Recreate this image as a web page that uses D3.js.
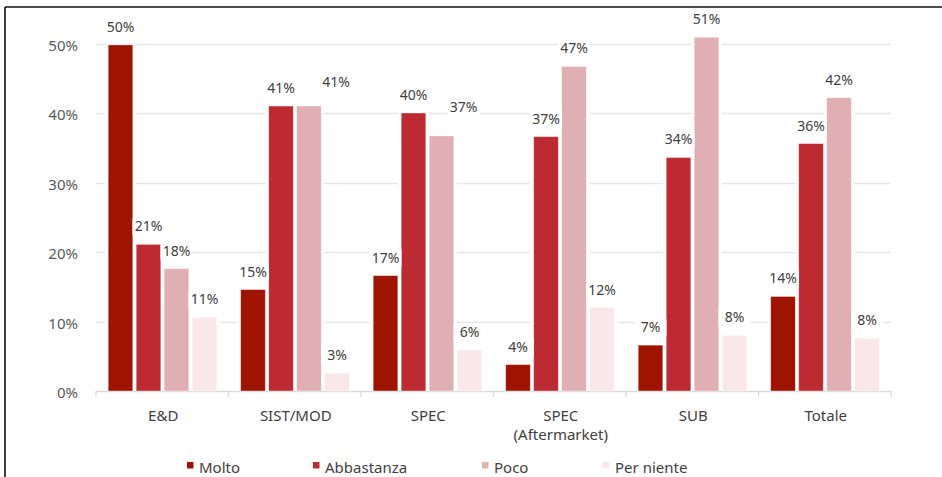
<!DOCTYPE html>
<html>
<head>
<meta charset="utf-8">
<script src="https://cdn.jsdelivr.net/npm/d3@7"></script>
<style>
  html, body { margin: 0; padding: 0; background: #fff; }
  svg { display: block; font-family: "Noto Sans", "Open Sans", sans-serif; }
</style>
</head>
<body>
<svg id="chart" width="942" height="477"></svg>
<script>
// ---- data ----
const categories = ["E&D", "SIST/MOD", "SPEC", "SPEC\n(Aftermarket)", "SUB", "Totale"];
const seriesNames = ["Molto", "Abbastanza", "Poco", "Per niente"];
const molto      = [0.498, 0.146, 0.166, 0.038, 0.066, 0.136];
const abbastanza = [0.211, 0.410, 0.400, 0.366, 0.336, 0.356];
const poco       = [0.176, 0.410, 0.367, 0.467, 0.509, 0.422];
const perNiente  = [0.106, 0.026, 0.059, 0.120, 0.080, 0.076];
const yTicks = [0, 0.1, 0.2, 0.3, 0.4, 0.5];

// ---- style ----
const colors = ["#9E1400", "#BE2A32", "#DFAFB3", "#F9E7E9"];
const labelNudges = { "1-2": [27, -6], "2-2": [22, -11] }; // cat-series : [dx, dy]

const seriesValues = [molto, abbastanza, poco, perNiente];
const rows = categories.map((c, i) => ({ cat: c, values: seriesValues.map(s => s[i]) }));

const svg = d3.select("#chart");

// frame lines
svg.append("line").attr("x1", 5).attr("x2", 942).attr("y1", 7).attr("y2", 7)
  .attr("stroke", "#111").attr("stroke-width", 1.6);
svg.append("line").attr("x1", 5).attr("x2", 5).attr("y1", 7).attr("y2", 477)
  .attr("stroke", "#111").attr("stroke-width", 1.6);

const x0 = d3.scaleBand().domain(categories).range([96, 891]).paddingInner(0).paddingOuter(0);
const x1 = d3.scaleBand().domain(seriesNames).range([10.5, 122.5]).paddingInner(0.12).paddingOuter(0.06);
const y = d3.scaleLinear().domain([0, 0.5]).range([391, 43.5]);
const pct = d3.format(".0%");

// gridlines
svg.append("g").selectAll("line").data(yTicks.filter(t => t > 0)).join("line")
  .attr("x1", 96).attr("x2", 891)
  .attr("y1", d => Math.round(y(d)) + 0.5).attr("y2", d => Math.round(y(d)) + 0.5)
  .attr("stroke", "#E6E6E6").attr("stroke-width", 1.3);

// y axis labels
const yAxis = d3.axisLeft(y).tickValues(yTicks).tickFormat(pct).tickSize(0).tickPadding(0);
const yg = svg.append("g").attr("transform", "translate(78,0)").call(yAxis);
yg.select(".domain").remove();
yg.selectAll("text").attr("fill", "#595959").attr("font-size", 15).attr("dy", "0.45em")
  .attr("font-family", "'Noto Sans', sans-serif");

// x axis baseline + ticks
const xg = svg.append("g");
xg.append("line").attr("x1", 96).attr("x2", 891).attr("y1", 391.5).attr("y2", 391.5)
  .attr("stroke", "#D9D9D9").attr("stroke-width", 1.3);
const bounds = categories.map(c => x0(c)).concat([x0.range()[1]]);
xg.selectAll("line.tk").data(bounds).join("line").attr("class", "tk")
  .attr("x1", d => d).attr("x2", d => d).attr("y1", 391).attr("y2", 397)
  .attr("stroke", "#D9D9D9").attr("stroke-width", 1.3);

// category labels
const catText = svg.append("g").selectAll("text").data(categories).join("text")
  .attr("x", d => x0(d) + x0.bandwidth() / 2 + 1)
  .attr("y", 421)
  .attr("text-anchor", "middle")
  .attr("font-size", 15).attr("fill", "#404040");
catText.each(function(d) {
  const lines = d.split("\n");
  d3.select(this).selectAll("tspan").data(lines).join("tspan")
    .attr("x", x0(d) + x0.bandwidth() / 2 + 1)
    .attr("dy", (l, i) => i === 0 ? 0 : 19)
    .text(l => l);
});

// bars
const groups = svg.append("g").selectAll("g").data(rows).join("g")
  .attr("transform", d => `translate(${x0(d.cat)},0)`);

const barData = d => d.values.map((v, j) => ({ v, j, name: seriesNames[j], ci: categories.indexOf(d.cat) }));

// white halo behind bars
groups.selectAll("rect.halo").data(barData).join("rect").attr("class", "halo")
  .attr("x", d => x1(d.name) - 3).attr("width", x1.bandwidth() + 6)
  .attr("y", d => y(d.v) - 1).attr("height", d => y(0) - y(d.v) + 1)
  .attr("fill", "#fff");
groups.selectAll("rect.bar").data(barData).join("rect").attr("class", "bar")
  .attr("x", d => x1(d.name)).attr("width", x1.bandwidth())
  .attr("y", d => y(d.v)).attr("height", d => y(0) - y(d.v))
  .attr("fill", (d) => colors[d.j])
  .attr("stroke", "#fff").attr("stroke-opacity", 0.5).attr("stroke-width", 0.8);

// data labels with white backgrounds
const lab = groups.selectAll("g.lab").data(barData).join("g").attr("class", "lab")
  .attr("transform", d => {
    const n = labelNudges[d.ci + "-" + d.j] || [0, 0];
    return `translate(${x1(d.name) + x1.bandwidth() / 2 + n[0]},${y(d.v) - 13 + n[1]})`;
  });
lab.append("rect").attr("x", -16).attr("y", -13).attr("width", 32).attr("height", 17).attr("fill", "#fff");
lab.append("text").attr("text-anchor", "middle").attr("font-size", 14).attr("fill", "#404040")
  .text(d => pct(d.v));

// legend
const legendX = [187, 313, 482, 603];
const leg = svg.append("g").selectAll("g").data(seriesNames).join("g")
  .attr("transform", (d, i) => `translate(${legendX[i]},462)`);
leg.append("rect").attr("width", 6.5).attr("height", 6.5).attr("fill", (d, i) => colors[i]);
leg.append("text").attr("x", 12).attr("y", 10.5).attr("font-size", 15).attr("fill", "#404040").text(d => d);
</script>
</body>
</html>
